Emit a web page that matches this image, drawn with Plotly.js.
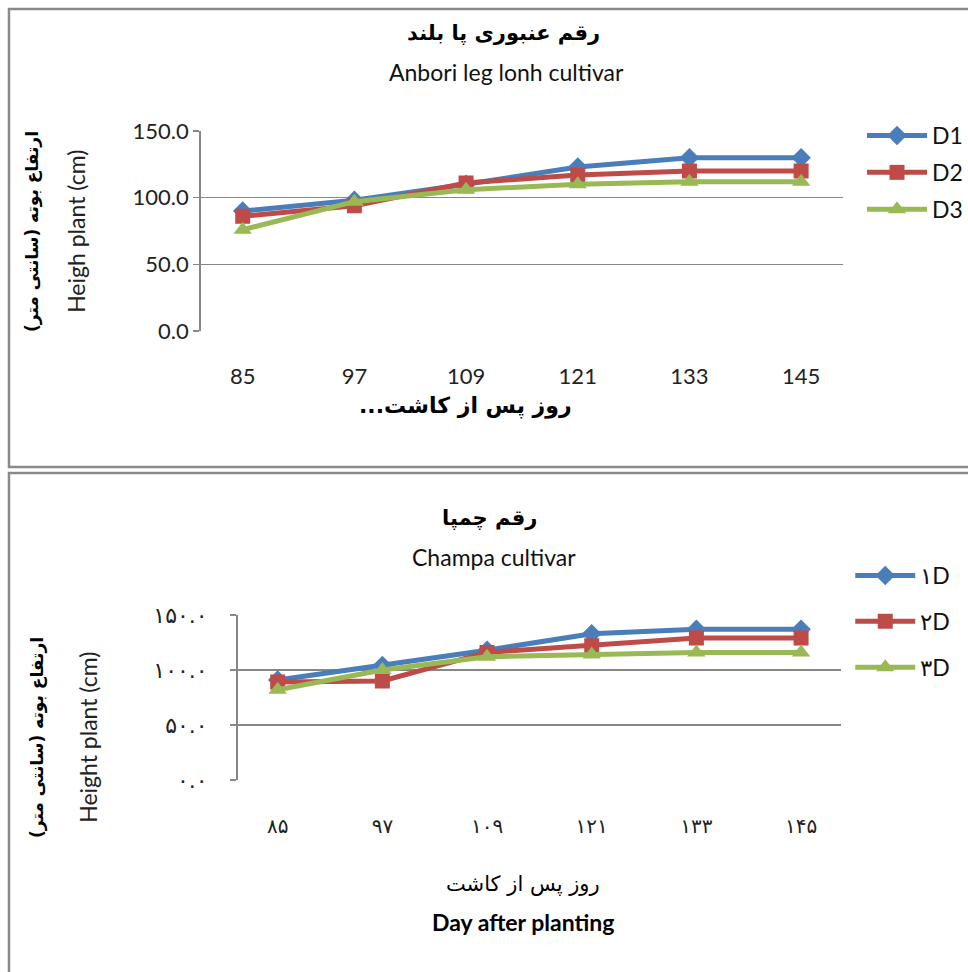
<!DOCTYPE html>
<html>
<head>
<meta charset="utf-8">
<script src="https://cdn.plot.ly/plotly-3.0.1.min.js"></script>
<style>html,body{margin:0;padding:0;background:#fff;}#chart{width:968px;height:972px;}</style>
</head>
<body>
<div id="chart"></div>
<script>
// ---- data ----
var days = ['85', '97', '109', '121', '133', '145'];
var daysFa = ['۸۵', '۹۷', '۱۰۹', '۱۲۱', '۱۳۳', '۱۴۵'];
var seriesNames = ['D1', 'D2', 'D3'];
var seriesNamesFa = ['۱D', '۲D', '۳D'];
var yTicks = [0, 50, 100, 150];
var yTicksFa = ['۰.۰', '۵۰.۰', '۱۰۰.۰', '۱۵۰.۰'];

// Anbori leg lonh cultivar
var anboriD1 = [90, 98, 110, 123, 130, 130];
var anboriD2 = [86, 94, 111, 117, 120, 120];
var anboriD3 = [76, 97, 106, 110, 112, 112];

// Champa cultivar
var champaD1 = [91, 104, 118, 133, 137, 137];
var champaD2 = [89, 90, 116, 122, 129, 129];
var champaD3 = [82, 100, 112, 114, 116, 116];

// ---- styles ----
var colors = ['#4A7EBB', '#BE4B48', '#98B954'];
var symbols = ['diamond', 'square', 'triangle-up'];
var msizes = [15, 15, 16];
var grid = '#878787';
var latin = 'Lato, "Open Sans", sans-serif';
var fa = '"DejaVu Sans", sans-serif';

function mk(x, y, i, xa, ya, name, leg) {
  return {
    type: 'scatter', mode: 'lines+markers', x: x, y: y, name: name,
    xaxis: xa, yaxis: ya, legend: leg, legendgroup: leg + i,
    line: {color: colors[i], width: 5},
    marker: {symbol: symbols[i], size: msizes[i], color: colors[i]},
    hoverinfo: 'skip'
  };
}

var data = [
  mk(days, anboriD1, 0, 'x', 'y', seriesNames[0], 'legend'),
  mk(days, anboriD2, 1, 'x', 'y', seriesNames[1], 'legend'),
  mk(days, anboriD3, 2, 'x', 'y', seriesNames[2], 'legend'),
  mk(days, champaD1, 0, 'x2', 'y2', seriesNamesFa[0], 'legend2'),
  mk(days, champaD2, 1, 'x2', 'y2', seriesNamesFa[1], 'legend2'),
  mk(days, champaD3, 2, 'x2', 'y2', seriesNamesFa[2], 'legend2')
];

var H = 972, W = 968;
function py(px) { return 1 - px / H; }
function pxx(px) { return px / W; }

function ann(text, x, y, font, angle) {
  return {text: text, x: pxx(x), y: py(y), xref: 'paper', yref: 'paper',
    xanchor: 'center', yanchor: 'middle', showarrow: false,
    textangle: angle || 0, font: font};
}

var layout = {
  width: W, height: H,
  margin: {l: 0, r: 0, t: 0, b: 0},
  paper_bgcolor: '#fff', plot_bgcolor: '#fff',
  showlegend: true,
  xaxis: {
    domain: [pxx(201), pxx(845)], anchor: 'y', type: 'category',
    showgrid: false, showline: false, ticks: '', zeroline: false,
    tickfont: {family: latin, size: 22, color: '#222'}, ticklabelstandoff: 30
  },
  yaxis: {
    domain: [py(331), py(131)], anchor: 'x', range: [0, 150], tickvals: yTicks,
    tickformat: '.1f', showgrid: true, gridcolor: grid, gridwidth: 1.5,
    showline: true, linecolor: grid, linewidth: 1.5, zeroline: false,
    ticks: 'outside', ticklen: 6, tickcolor: grid, tickwidth: 1.5,
    tickfont: {family: latin, size: 22, color: '#222'}
  },
  xaxis2: {
    domain: [pxx(238), pxx(843)], anchor: 'y2', type: 'category',
    tickvals: days, ticktext: daysFa,
    showgrid: false, showline: false, ticks: '', zeroline: false,
    tickfont: {family: fa, size: 20, color: '#222'}, ticklabelstandoff: 32
  },
  yaxis2: {
    domain: [py(780), py(615)], anchor: 'x2', range: [0, 150],
    tickvals: yTicks, ticktext: yTicksFa,
    showgrid: true, gridcolor: grid, gridwidth: 1.5,
    showline: true, linecolor: grid, linewidth: 1.5, zeroline: false,
    ticks: 'outside', ticklen: 6, tickcolor: grid, tickwidth: 1.5,
    tickfont: {family: fa, size: 22, color: '#222'}, ticklabelstandoff: 18
  },
  legend: {
    x: pxx(864), y: py(114), xanchor: 'left', yanchor: 'top',
    font: {family: latin, size: 23, color: '#111'}, itemwidth: 60,
    tracegroupgap: 4, bgcolor: 'rgba(0,0,0,0)'
  },
  legend2: {
    x: pxx(852), y: py(554), xanchor: 'left', yanchor: 'top',
    font: {family: latin, size: 23, color: '#111'}, itemwidth: 60,
    tracegroupgap: 13, bgcolor: 'rgba(0,0,0,0)'
  },
  shapes: [
    {type: 'rect', xref: 'paper', yref: 'paper', x0: pxx(9), x1: 1.01, y0: py(467), y1: py(9),
     line: {color: '#8a8a8a', width: 2.5}, fillcolor: 'rgba(0,0,0,0)'},
    {type: 'rect', xref: 'paper', yref: 'paper', x0: pxx(9), x1: 1.01, y0: -0.01, y1: py(473),
     line: {color: '#8a8a8a', width: 2.5}, fillcolor: 'rgba(0,0,0,0)'}
  ],
  annotations: [
    ann('<b>رقم عنبوری پا بلند</b>', 505, 33, {family: fa, size: 21, color: '#000'}),
    ann('Anbori leg lonh cultivar', 508, 72, {family: latin, size: 23, color: '#111'}),
    ann('<b>ارتفاع بوته (سانتی متر)</b>', 33, 231, {family: fa, size: 17, color: '#000'}, -90),
    ann('Heigh plant (cm)', 76, 231, {family: latin, size: 23, color: '#222'}, -90),
    ann('<b>...روز پس از کاشت</b>', 466, 406, {family: fa, size: 22, color: '#000'}),

    ann('<b>رقم چمپا</b>', 491, 518, {family: fa, size: 21, color: '#000'}),
    ann('Champa cultivar', 495, 557, {family: latin, size: 23, color: '#111'}),
    ann('<b>ارتفاع بوته (سانتی متر)</b>', 37, 737, {family: fa, size: 17, color: '#000'}, -90),
    ann('Height plant (cm)', 88, 737, {family: latin, size: 23, color: '#222'}, -90),
    ann('روز پس از کاشت', 524, 884, {family: fa, size: 21, color: '#000'}),
    ann('<b>Day after planting</b>', 524, 922, {family: latin, size: 23, color: '#000'})
  ]
};

Plotly.newPlot('chart', data, layout, {staticPlot: true, displayModeBar: false});
</script>
</body>
</html>
